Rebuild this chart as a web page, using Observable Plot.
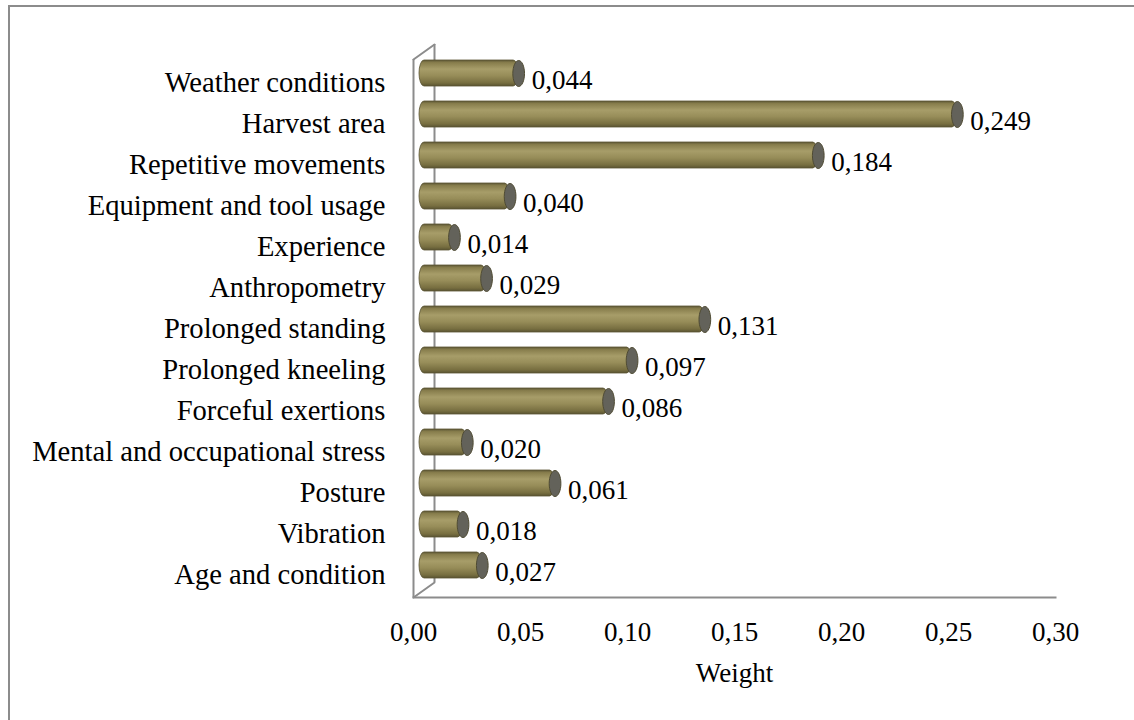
<!DOCTYPE html>
<html><head><meta charset="utf-8">
<script src="https://cdn.jsdelivr.net/npm/d3@7"></script>
<script src="https://cdn.jsdelivr.net/npm/@observablehq/plot@0.6"></script>
<style>
html,body{margin:0;padding:0;background:#fff;overflow:hidden;}
#wrap{position:relative;width:1134px;height:720px;}
#border{position:absolute;left:8px;top:5px;width:1300px;height:900px;border:2px solid #8c8c8c;box-sizing:border-box;pointer-events:none;}
#chart svg{display:block;}
</style></head>
<body>
<div id="wrap"><div id="chart"></div><div id="border"></div></div>
<script>
const factors = ["Weather conditions","Harvest area","Repetitive movements","Equipment and tool usage","Experience","Anthropometry","Prolonged standing","Prolonged kneeling","Forceful exertions","Mental and occupational stress","Posture","Vibration","Age and condition"];
const weights = [0.044,0.249,0.184,0.040,0.014,0.029,0.131,0.097,0.086,0.020,0.061,0.018,0.027];
const xTicks = [0,0.05,0.10,0.15,0.20,0.25,0.30];
const xLabel = "Weight";

const data = factors.map((f,i)=>({factor:f, weight:weights[i]}));
const FONT = "Liberation Serif";
const FS = 27;
const FSY = 28.6;
const gray = "#8c8c8c";
const k = 0.5523;
const ellipseSymbol = {draw(ctx, size){
  const ry = Math.sqrt(size/Math.PI), rx = ry*0.45;
  ctx.moveTo(rx,0);
  ctx.bezierCurveTo(rx, ry*k, rx*k, ry, 0, ry);
  ctx.bezierCurveTo(-rx*k, ry, -rx, ry*k, -rx, 0);
  ctx.bezierCurveTo(-rx, -ry*k, -rx*k, -ry, 0, -ry);
  ctx.bezierCurveTo(rx*k, -ry, rx, -ry*k, rx, 0);
  ctx.closePath();
}};
const lineShape = {draw(ctx, l){ ctx.moveTo(0,0); ctx.lineTo(0,-l); }};
const comma = (d,n)=>d.toFixed(n).replace(".",",");

const chart = Plot.plot({
  width:1134, height:720,
  marginLeft:413, marginRight:79, marginTop:59, marginBottom:123,
  style:{fontFamily:FONT, fontSize:FS+"px", color:"#000", background:"transparent"},
  x:{domain:[0,0.30]},
  y:{domain:factors, paddingInner:0.37, paddingOuter:0.185},
  marks:[
    Plot.ruleX([0], {stroke:gray, strokeWidth:2, dx:21, dy:-15}),
    Plot.ruleX([0], {stroke:gray, strokeWidth:2}),
    Plot.frame({anchor:"bottom", stroke:gray, strokeWidth:2}),
    Plot.vector([0], {frameAnchor:"top-left", length:25.8, rotate:54.5, anchor:"start", shape:lineShape, stroke:gray, strokeWidth:2}),
    Plot.vector([0], {frameAnchor:"bottom-left", length:25.8, rotate:54.5, anchor:"start", shape:lineShape, stroke:gray, strokeWidth:2}),
    Plot.axisX({ticks:xTicks, tickSize:0, tickPadding:24, tickFormat:d=>comma(d,2), label:null, fontSize:FS}),
    Plot.axisY({tickSize:0, tickPadding:28, label:null, fontSize:FSY}),
    Plot.text([xLabel], {frameAnchor:"bottom", lineAnchor:"middle", dy:76, text:d=>d, fontSize:FS}),
    Plot.barX(data, {x:"weight", y:"factor", fill:"url(#cyl)", stroke:"#5a5434", strokeWidth:0.8, rx:5, ry:13, insetLeft:-5, dx:11, dy:-9}),
    Plot.dot(data, {x:"weight", y:"factor", r:13, symbol:ellipseSymbol, fill:"#63625a", stroke:"#4f4b33", strokeWidth:1, dx:11, dy:-9}),
    Plot.text(data, {x:"weight", y:"factor", text:d=>comma(d.weight,3), textAnchor:"start", dx:24, dy:-2, fontSize:FS})
  ]
});
const svg = d3.select(chart);
const defs = svg.insert("defs", ":first-child");
const g = defs.append("linearGradient").attr("id","cyl").attr("x1",0).attr("y1",0).attr("x2",0).attr("y2",1);
[[0,"#5e5836"],[0.1,"#877d4c"],[0.35,"#a79d69"],[0.6,"#978d59"],[0.88,"#776e40"],[1,"#5a5432"]].forEach(([o,c])=>g.append("stop").attr("offset",o).attr("stop-color",c));
document.getElementById("chart").appendChild(chart);
</script>
</body></html>
